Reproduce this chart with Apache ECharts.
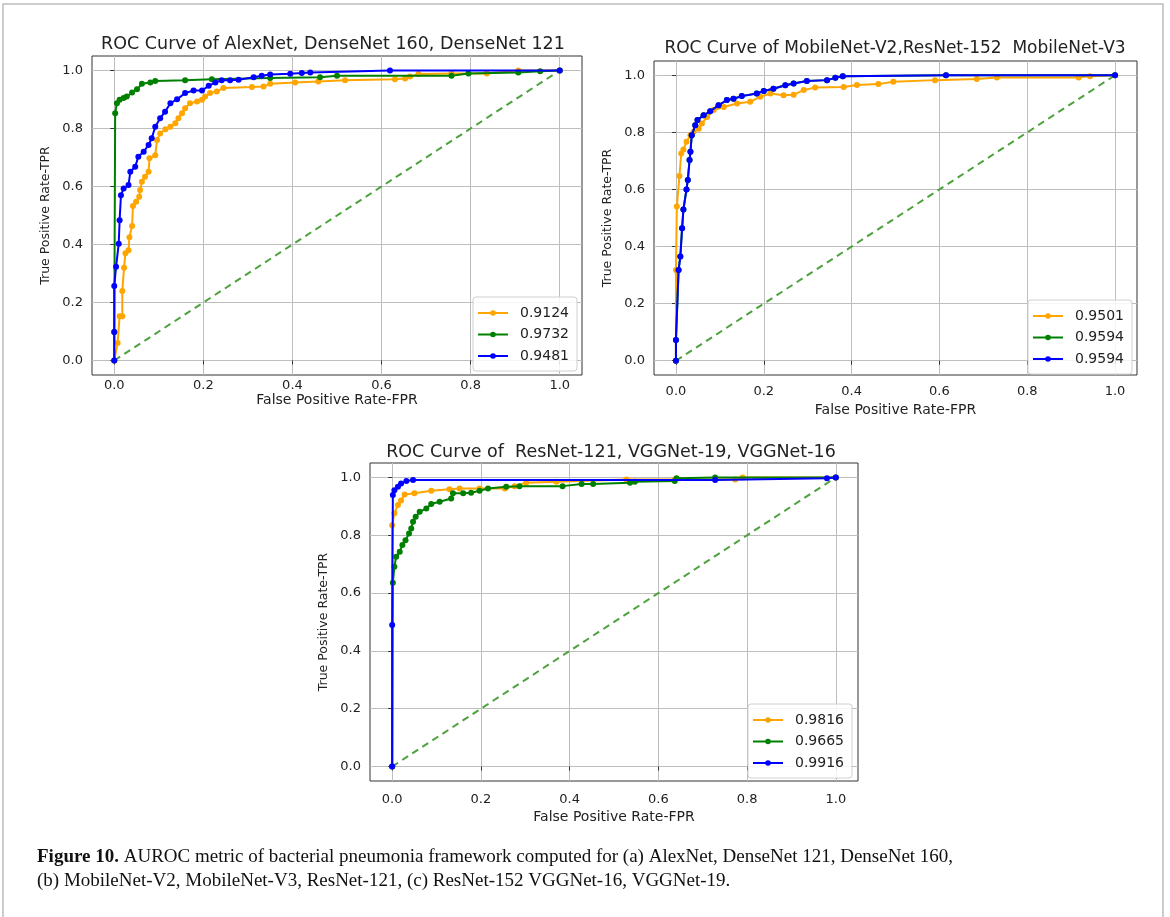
<!DOCTYPE html>
<html>
<head>
<meta charset="utf-8">
<script src="https://cdn.jsdelivr.net/npm/echarts@6/dist/echarts.min.js"></script>
<style>
html,body{margin:0;padding:0;background:#fff;}
#c{width:1170px;height:917px;}
</style>
</head>
<body>
<div id="c"></div>
<script>
// ---------- data ----------
const tickValues = [0, 0.2, 0.4, 0.6, 0.8, 1.0];
const titles = [
  'ROC Curve of AlexNet, DenseNet 160, DenseNet 121',
  'ROC Curve of MobileNet-V2,ResNet-152  MobileNet-V3',
  'ROC Curve of  ResNet-121, VGGNet-19, VGGNet-16'
];
const xLabel = 'False Positive Rate-FPR';
const yLabel = 'True Positive Rate-TPR';
const diagonal = [[0, 0], [1, 1]];

// (a) AlexNet / DenseNet
const aNames = ['0.9124', '0.9732', '0.9481'];
const aOrange = [[0,0],[0.0075,0.06],[0.012,0.153],[0.018,0.153],[0.018,0.24],[0.022,0.32],[0.025,0.37],[0.032,0.38],[0.034,0.425],[0.04,0.464],[0.042,0.533],[0.049,0.547],[0.056,0.565],[0.058,0.588],[0.062,0.616],[0.069,0.634],[0.077,0.651],[0.079,0.697],[0.092,0.708],[0.096,0.76],[0.103,0.783],[0.115,0.797],[0.126,0.806],[0.137,0.818],[0.144,0.835],[0.152,0.853],[0.159,0.87],[0.17,0.887],[0.186,0.893],[0.197,0.899],[0.204,0.91],[0.215,0.922],[0.23,0.928],[0.245,0.94],[0.309,0.943],[0.335,0.945],[0.35,0.954],[0.406,0.959],[0.458,0.962],[0.518,0.966],[0.63,0.97],[0.653,0.972],[0.664,0.979],[0.683,0.988],[0.757,0.99],[0.836,0.99],[0.907,1.0],[1,1]];
const aGreen = [[0,0],[0,0.098],[0.002,0.853],[0.006,0.887],[0.012,0.899],[0.021,0.905],[0.028,0.91],[0.04,0.924],[0.051,0.935],[0.062,0.954],[0.081,0.959],[0.092,0.964],[0.159,0.966],[0.219,0.97],[0.35,0.974],[0.462,0.977],[0.5,0.982],[0.757,0.982],[0.795,0.99],[0.907,0.993],[0.956,0.997],[1,1]];
const aBlue = [[0,0],[0,0.098],[0,0.257],[0.004,0.323],[0.01,0.403],[0.012,0.484],[0.015,0.57],[0.021,0.593],[0.032,0.605],[0.036,0.651],[0.047,0.668],[0.054,0.703],[0.066,0.72],[0.077,0.743],[0.084,0.766],[0.092,0.806],[0.103,0.835],[0.114,0.858],[0.126,0.887],[0.141,0.901],[0.159,0.922],[0.178,0.931],[0.197,0.931],[0.212,0.947],[0.227,0.959],[0.241,0.966],[0.26,0.966],[0.279,0.968],[0.313,0.977],[0.331,0.982],[0.35,0.986],[0.395,0.989],[0.421,0.991],[0.44,0.993],[0.619,1.0],[1,1]];

// (b) MobileNet / ResNet-152
const bNames = ['0.9501', '0.9594', '0.9594'];
const bOrange = [[0,0],[0,0.318],[0.002,0.54],[0.008,0.647],[0.012,0.726],[0.017,0.74],[0.024,0.767],[0.033,0.79],[0.04,0.802],[0.052,0.813],[0.059,0.831],[0.071,0.854],[0.086,0.878],[0.109,0.889],[0.139,0.901],[0.169,0.907],[0.192,0.925],[0.215,0.936],[0.245,0.93],[0.268,0.932],[0.291,0.948],[0.317,0.957],[0.382,0.959],[0.412,0.966],[0.461,0.969],[0.495,0.977],[0.59,0.983],[0.685,0.987],[0.731,0.992],[0.917,0.992],[0.943,0.997],[1,1]];
const bBlue = [[0,0],[0,0.073],[0.006,0.318],[0.01,0.365],[0.014,0.464],[0.017,0.53],[0.024,0.6],[0.027,0.633],[0.031,0.703],[0.033,0.732],[0.036,0.79],[0.044,0.825],[0.049,0.843],[0.063,0.86],[0.078,0.874],[0.097,0.895],[0.116,0.913],[0.131,0.918],[0.15,0.927],[0.184,0.936],[0.2,0.945],[0.222,0.953],[0.249,0.965],[0.268,0.971],[0.298,0.98],[0.344,0.983],[0.363,0.991],[0.38,0.997],[0.615,1],[1,1]];
const bGreen = bBlue.map(p => p.slice());

// (c) ResNet-121 / VGGNet
const cNames = ['0.9816', '0.9665', '0.9916'];
const cOrange = [[0,0],[0,0.835],[0.005,0.876],[0.013,0.905],[0.02,0.92],[0.028,0.941],[0.05,0.945],[0.088,0.954],[0.129,0.959],[0.152,0.962],[0.197,0.962],[0.254,0.962],[0.276,0.97],[0.302,0.982],[0.37,0.985],[0.528,0.993],[0.637,0.993],[0.773,0.993],[0.79,1.0],[1,1]];
const cGreen = [[0,0],[0.0015,0.636],[0.005,0.691],[0.009,0.726],[0.017,0.743],[0.023,0.766],[0.03,0.783],[0.038,0.806],[0.043,0.823],[0.047,0.847],[0.053,0.864],[0.062,0.881],[0.077,0.893],[0.088,0.908],[0.107,0.916],[0.133,0.927],[0.137,0.945],[0.16,0.945],[0.178,0.947],[0.197,0.954],[0.216,0.962],[0.257,0.968],[0.287,0.97],[0.384,0.97],[0.427,0.977],[0.453,0.977],[0.536,0.982],[0.547,0.985],[0.637,0.988],[0.641,0.997],[0.728,1.0],[1,1]];
const cBlue = [[0,0],[0,0.49],[0.0015,0.939],[0.005,0.956],[0.013,0.968],[0.02,0.979],[0.032,0.988],[0.047,0.991],[0.728,0.991],[0.98,0.997],[1,1]];

const captionBold = 'Figure 10.';
const captionLine1 = ' AUROC metric of bacterial pneumonia framework computed for (a) AlexNet, DenseNet 121, DenseNet 160,';
const captionLine2 = '(b) MobileNet-V2, MobileNet-V3, ResNet-121, (c) ResNet-152 VGGNet-16, VGGNet-19.';

// ---------- styling / layout ----------
const COLORS = ['#ffa500', '#008000', '#0000ff'];
const DIAG = '#4da23e';
const FONT = 'DejaVu Sans';
const grids = [
  {left: 92, top: 56, width: 490, height: 319},
  {left: 654, top: 61, width: 483, height: 314},
  {left: 370, top: 463, width: 488, height: 318}
];
const legendPos = [
  {left: 473, top: 297},
  {left: 1028, top: 300},
  {left: 748, top: 704}
];
const titlePos = [
  {x: 328, y: 30}, {x: 890, y: 35}, {x: 606, y: 438}
];
const titleSize = [17.5, 17, 17.5];
const xTickMargin = [4, 10, 12];
const xNameGap = [16, 28, 29];
const yNameGap = [40, 40, 40];

const sets = [
  {names: aNames, data: [aOrange, aGreen, aBlue]},
  {names: bNames, data: [bOrange, bGreen, bBlue]},
  {names: cNames, data: [cOrange, cGreen, cBlue]}
];

const xAxes = [], yAxes = [], series = [], legends = [], titleList = [];
sets.forEach((s, i) => {
  const common = {
    type: 'value', min: -0.05, max: 1.05, gridIndex: i,
    axisLine: {show: false},
    axisTick: {show: true, length: 4, customValues: tickValues, lineStyle: {color: '#333'}},
    axisLabel: {customValues: tickValues, formatter: v => v.toFixed(1), color: '#222', fontFamily: FONT, fontSize: 13},
    splitLine: {show: true, lineStyle: {color: '#bdbdbd', width: 1}},
    nameLocation: 'middle'
  };
  xAxes.push(Object.assign({}, common, {
    name: xLabel, nameGap: xNameGap[i],
    nameTextStyle: {fontFamily: FONT, fontSize: 14, color: '#222'},
    axisLabel: Object.assign({}, common.axisLabel, {margin: xTickMargin[i]})
  }));
  yAxes.push(Object.assign({}, common, {
    name: yLabel, nameGap: yNameGap[i],
    nameTextStyle: {fontFamily: FONT, fontSize: 12.5, color: '#222'},
    axisLabel: Object.assign({}, common.axisLabel, {margin: 9})
  }));
  series.push({
    type: 'line', name: 'diag' + i, xAxisIndex: i, yAxisIndex: i,
    data: diagonal, showSymbol: false, z: 1,
    lineStyle: {color: DIAG, width: 2, type: [7, 5]}, silent: true
  });
  const legNames = [];
  s.data.forEach((d, k) => {
    let nm = s.names[k];
    while (legNames.indexOf(nm) >= 0) nm = nm + ' ';
    legNames.push(nm);
    series.push({
      type: 'line', name: nm, xAxisIndex: i, yAxisIndex: i,
      data: d, symbol: 'circle', symbolSize: 6, showAllSymbol: true,
      color: COLORS[k], z: 2 + k,
      lineStyle: {color: COLORS[k], width: 2},
      itemStyle: {color: COLORS[k]}
    });
  });
  legends.push(Object.assign({
    orient: 'vertical', data: legNames,
    itemWidth: 30, itemHeight: 7, itemGap: 7.5,
    padding: [9, 8, 8, 4],
    borderColor: '#d0d0d0', borderWidth: 1, borderRadius: 3,
    backgroundColor: 'rgba(255,255,255,0.85)',
    selectedMode: false,
    formatter: n => n.trim(),
    textStyle: {fontFamily: FONT, fontSize: 14, color: '#222', padding: [0, 0, 0, 7]}
  }, legendPos[i]));
  titleList.push({
    text: titles[i], left: titlePos[i].x, top: titlePos[i].y, textAlign: 'center',
    textStyle: {fontFamily: FONT, fontSize: titleSize[i], fontWeight: 'normal', color: '#222'}
  });
});

const chart = echarts.init(document.getElementById('c'), null, {renderer: 'canvas'});
chart.setOption({
  animation: false,
  backgroundColor: '#fff',
  title: titleList,
  grid: grids.map(g => Object.assign({show: true, borderColor: '#333', borderWidth: 1, backgroundColor: 'transparent', containLabel: false}, g)),
  xAxis: xAxes,
  yAxis: yAxes,
  legend: legends,
  series: series,
  graphic: [
    {type: 'rect', shape: {x: 3, y: 4, width: 1160, height: 940}, style: {fill: 'none', stroke: '#bdbdbd', lineWidth: 1.5}, silent: true, z: -10},
    {type: 'text', left: 37, top: 845, style: {
      text: '{b|' + captionBold + '}' + captionLine1 + '\n' + captionLine2,
      rich: {b: {fontWeight: 'bold', fontFamily: 'Liberation Serif', fontSize: 19, fill: '#111'}},
      fontFamily: 'Liberation Serif', fontSize: 19, fill: '#111', lineHeight: 24
    }}
  ]
});
</script>
</body>
</html>
